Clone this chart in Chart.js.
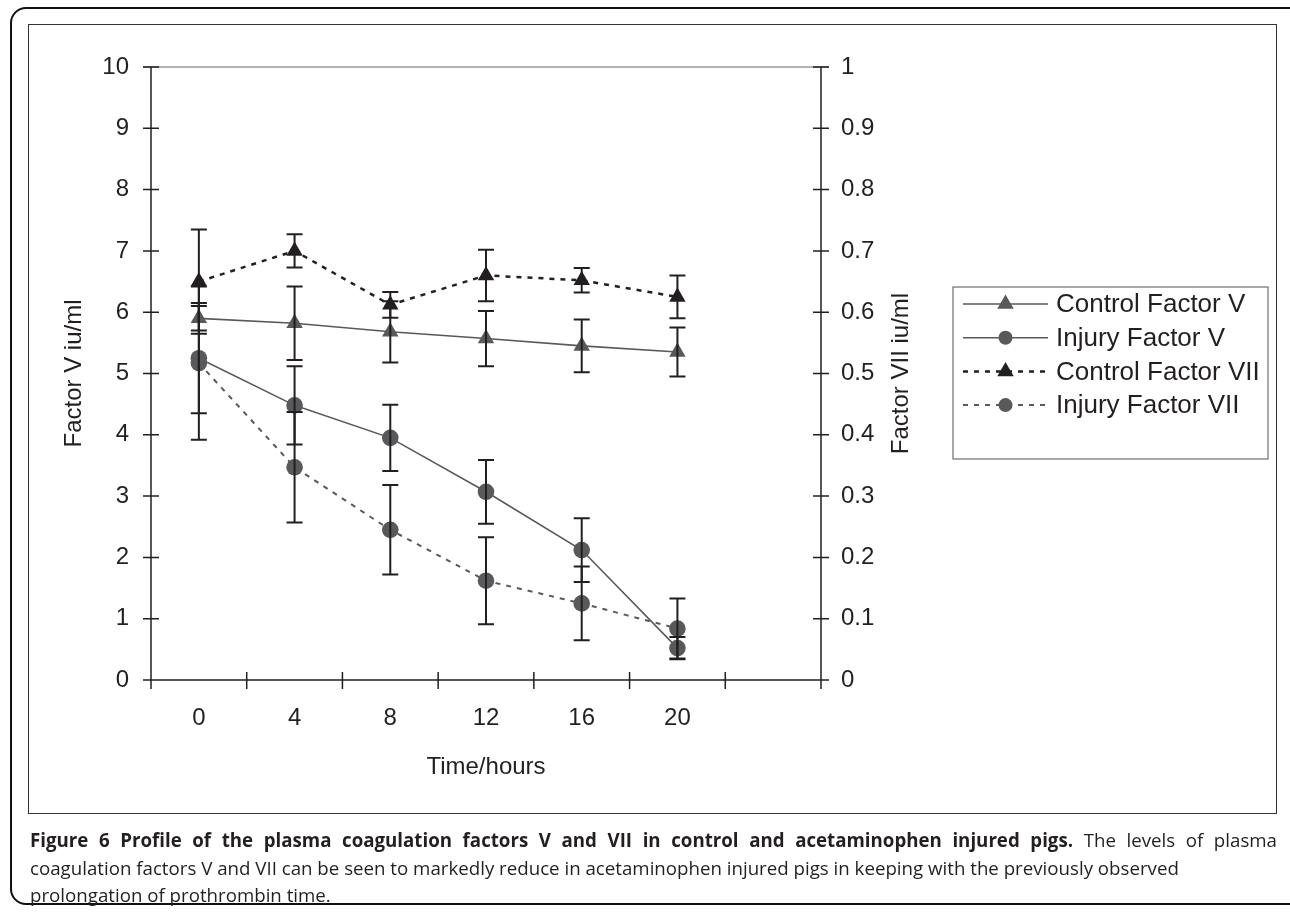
<!DOCTYPE html>
<html>
<head>
<meta charset="utf-8">
<script src="https://cdn.jsdelivr.net/npm/chart.js@4.4.1/dist/chart.umd.min.js"></script>
<style>
  html, body { margin: 0; padding: 0; background: #fff; }
  body { width: 1290px; height: 912px; position: relative; overflow: hidden; }
  #outer { position: absolute; left: 10px; top: 7px; width: 1300px; height: 898px;
           border: 2px solid #111; border-radius: 16px; box-sizing: border-box; }
  #inner { position: absolute; left: 28px; top: 24px; width: 1249px; height: 790px;
           border: 1.5px solid #333; box-sizing: border-box; }
  #chart { position: absolute; left: 0; top: 0; }
  #caption { position: absolute; left: 30px; top: 826px; width: 1247px;
             font-family: "Open Sans", sans-serif; font-size: 18.7px; color: #231f20; line-height: 27.5px; }
  #caption .l1 { text-align: justify; text-align-last: justify; white-space: nowrap; }
  #caption b { font-weight: 700; }
</style>
</head>
<body>
<div id="outer"></div>
<div id="inner"></div>
<canvas id="chart" width="1290" height="912"></canvas>
<div id="caption">
  <div class="l1"><b>Figure 6 Profile of the plasma coagulation factors V and VII in control and acetaminophen injured pigs.</b> The levels of plasma</div>
  <div>coagulation factors V and VII can be seen to markedly reduce in acetaminophen injured pigs in keeping with the previously observed</div>
  <div>prolongation of prothrombin time.</div>
</div>
<script>
// time points (last slot is empty, as in the original axis)
const timeLabels = ["0", "4", "8", "12", "16", "20", ""];

// Factor V, iu/ml (left axis)
const controlV = [5.9, 5.82, 5.68, 5.57, 5.45, 5.35];
const controlVErr = [0.2, 0.6, 0.5, 0.45, 0.43, 0.4];
const injuryV = [5.25, 4.48, 3.95, 3.07, 2.12, 0.52];
const injuryVErr = [0.9, 0.64, 0.54, 0.52, 0.52, 0.18];

// Factor VII, iu/ml (right axis)
const controlVII = [0.65, 0.70, 0.612, 0.66, 0.652, 0.625];
const controlVIIErr = [0.085, 0.027, 0.021, 0.042, 0.02, 0.035];
const injuryVII = [0.517, 0.347, 0.245, 0.162, 0.125, 0.084];
const injuryVIIErr = [0.125, 0.09, 0.073, 0.071, 0.06, 0.049];

const ink = "#231f20";
const grey = "#58595b";
const tickFont = { family: "Liberation Sans, Arial, sans-serif", size: 24 };

const errorSets = [controlVErr, injuryVErr, controlVIIErr, injuryVIIErr];

// error bars, drawn over the markers
const errorBars = {
  id: "errorBars",
  afterDatasetsDraw(chart) {
    const ctx = chart.ctx;
    ctx.save();
    ctx.strokeStyle = ink;
    ctx.lineWidth = 2;
    chart.data.datasets.forEach((ds, di) => {
      const yScale = chart.scales[ds.yAxisID];
      const meta = chart.getDatasetMeta(di);
      ds.data.forEach((v, i) => {
        const e = errorSets[di][i];
        const x = meta.data[i].x;
        const yTop = yScale.getPixelForValue(v + e);
        const yBot = yScale.getPixelForValue(v - e);
        ctx.beginPath();
        ctx.moveTo(x, yTop); ctx.lineTo(x, yBot);
        ctx.moveTo(x - 8, yTop); ctx.lineTo(x + 8, yTop);
        ctx.moveTo(x - 8, yBot); ctx.lineTo(x + 8, yBot);
        ctx.stroke();
      });
    });
    ctx.restore();
  }
};

// axis lines with crossing tick marks, top border, right title, legend
const frame = {
  id: "frame",
  beforeDatasetsDraw(chart) {
    const ctx = chart.ctx;
    const a = chart.chartArea;
    const xs = chart.scales.x, ys = chart.scales.y, y2 = chart.scales.y1;
    ctx.save();
    ctx.lineWidth = 1.5;
    ctx.strokeStyle = "#9a9a9a";
    ctx.beginPath();
    ctx.moveTo(a.left - 8, a.top); ctx.lineTo(a.right + 8, a.top);
    ctx.stroke();

    ctx.strokeStyle = ink;
    ctx.beginPath();
    ctx.moveTo(a.left, a.top); ctx.lineTo(a.left, a.bottom);
    ctx.moveTo(a.right, a.top); ctx.lineTo(a.right, a.bottom);
    ctx.moveTo(a.left - 8, a.bottom); ctx.lineTo(a.right + 8, a.bottom);
    ys.ticks.forEach(t => {
      const p = ys.getPixelForValue(t.value);
      ctx.moveTo(a.left - 8, p); ctx.lineTo(a.left + 8, p);
    });
    y2.ticks.forEach(t => {
      const p = y2.getPixelForValue(t.value);
      ctx.moveTo(a.right - 8, p); ctx.lineTo(a.right + 8, p);
    });
    const slot = xs.getPixelForValue(1) - xs.getPixelForValue(0);
    for (let i = 0; i <= timeLabels.length; i++) {
      const p = xs.getPixelForValue(0) - slot / 2 + i * slot;
      ctx.moveTo(p, a.bottom - 8); ctx.lineTo(p, a.bottom + 9);
    }
    ctx.stroke();

    // right axis title, reading upward like the left one
    ctx.fillStyle = ink;
    ctx.font = "24px Liberation Sans, Arial, sans-serif";
    ctx.textAlign = "center";
    ctx.textBaseline = "middle";
    ctx.translate(a.right + 80, (a.top + a.bottom) / 2);
    ctx.rotate(-Math.PI / 2);
    ctx.fillText("Factor VII iu/ml", 0, 0);
    ctx.restore();
  },
  afterDraw(chart) {
    const ctx = chart.ctx;
    const a = chart.chartArea;
    const bx = a.right + 132, by = 287, bw = 315, bh = 172;
    ctx.save();
    ctx.strokeStyle = "#6d6e71";
    ctx.lineWidth = 1.2;
    ctx.strokeRect(bx, by, bw, bh);
    const rowH = 33.7;
    chart.data.datasets.forEach((ds, i) => {
      const cy = by + 17 + i * rowH;
      const x0 = bx + 10, x1 = bx + 95, xm = (x0 + x1) / 2;
      ctx.strokeStyle = ds.borderColor;
      ctx.lineWidth = ds.borderWidth;
      ctx.setLineDash(ds.borderDash || []);
      ctx.beginPath();
      ctx.moveTo(x0, cy); ctx.lineTo(x1, cy);
      ctx.stroke();
      ctx.setLineDash([]);
      ctx.fillStyle = ds.pointBackgroundColor;
      ctx.beginPath();
      if (ds.pointStyle === "triangle") {
        const r = 9.5;
        ctx.moveTo(xm, cy - r);
        ctx.lineTo(xm + r * 0.866, cy + r / 2);
        ctx.lineTo(xm - r * 0.866, cy + r / 2);
        ctx.closePath();
      } else {
        ctx.arc(xm, cy, 7, 0, Math.PI * 2);
      }
      ctx.fill();
      ctx.fillStyle = ink;
      ctx.font = "26px Liberation Sans, Arial, sans-serif";
      ctx.textAlign = "left";
      ctx.textBaseline = "middle";
      ctx.fillText(ds.label, x1 + 8, cy + 1);
    });
    ctx.restore();
  }
};

new Chart(document.getElementById("chart"), {
  type: "line",
  data: {
    labels: timeLabels,
    datasets: [
      {
        label: "Control Factor V", data: controlV, yAxisID: "y",
        borderColor: grey, borderWidth: 1.6, pointStyle: "triangle",
        pointRadius: 9.5, pointBackgroundColor: grey, pointBorderWidth: 0
      },
      {
        label: "Injury Factor V", data: injuryV, yAxisID: "y",
        borderColor: grey, borderWidth: 1.6, pointStyle: "circle",
        pointRadius: 8.3, pointBackgroundColor: grey, pointBorderWidth: 0
      },
      {
        label: "Control Factor VII", data: controlVII, yAxisID: "y1",
        borderColor: ink, borderWidth: 2.5, borderDash: [5, 6], pointStyle: "triangle",
        pointRadius: 9.5, pointBackgroundColor: ink, pointBorderWidth: 0
      },
      {
        label: "Injury Factor VII", data: injuryVII, yAxisID: "y1",
        borderColor: grey, borderWidth: 2, borderDash: [5, 6], pointStyle: "circle",
        pointRadius: 8.3, pointBackgroundColor: grey, pointBorderWidth: 0
      }
    ]
  },
  options: {
    responsive: false,
    animation: false,
    devicePixelRatio: 1,
    layout: { padding: { left: 50, right: 365, top: 67, bottom: 130.6 } },
    plugins: { legend: { display: false }, tooltip: { enabled: false } },
    scales: {
      x: {
        type: "category", offset: true,
        grid: { display: false, drawTicks: false }, border: { display: false },
        ticks: { font: tickFont, color: ink, padding: 23.5, maxRotation: 0, autoSkip: false },
        title: { display: true, text: "Time/hours", font: tickFont, color: ink, padding: 0 },
        afterFit(s) { s.height = 101.4; }
      },
      y: {
        position: "left", min: 0, max: 10,
        grid: { display: false, drawTicks: false }, border: { display: false },
        ticks: { stepSize: 1, font: tickFont, color: ink, padding: 22 },
        title: { display: true, text: "Factor V iu/ml", font: tickFont, color: ink, padding: { top: 10, bottom: 0 } },
        afterFit(s) { s.width = 101; }
      },
      y1: {
        position: "right", min: 0, max: 1,
        grid: { display: false, drawTicks: false }, border: { display: false },
        ticks: { stepSize: 0.1, font: tickFont, color: ink, padding: 20,
                 callback: v => String(Math.round(v * 10) / 10) },
        afterFit(s) { s.width = 104; }
      }
    }
  },
  plugins: [frame, errorBars]
});
</script>
</body>
</html>
